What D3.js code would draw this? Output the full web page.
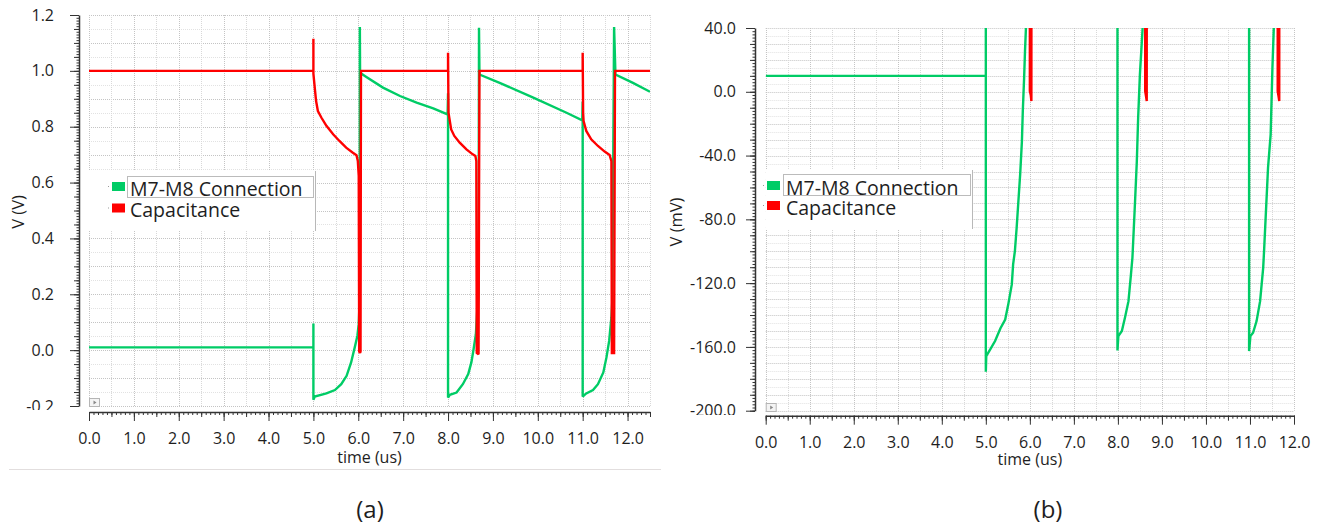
<!DOCTYPE html>
<html><head><meta charset="utf-8">
<script src="https://cdn.jsdelivr.net/npm/d3@7"></script>
<style>
body{margin:0;background:#fff;}
svg{display:block;}
text{font-family:"Open Sans","Noto Sans",sans-serif;fill:#1e1e1e;}
</style>
</head><body>
<svg id="c" width="1327" height="530"></svg>
<script>
// ---------- DATA ----------
const seriesNames = ["M7-M8 Connection", "Capacitance"];
const panelCaptions = ["(a)", "(b)"];

// Panel (a): time in us, V in volts
const xTicksA = [0,1,2,3,4,5,6,7,8,9,10,11,12];
const xTickLabelsA = ["0.0","1.0","2.0","3.0","4.0","5.0","6.0","7.0","8.0","9.0","10.0","11.0","12.0"];
const yTicksA = [-0.2,0,0.2,0.4,0.6,0.8,1.0,1.2];
const yTickLabelsA = ["-0.2","0.0","0.2","0.4","0.6","0.8","1.0","1.2"];

const greenA_t = [0,5.0,5.0,5.0,5.03,5.29,5.48,5.62,5.74,5.84,5.92,5.98,6.01,6.03,6.035,6.04,6.18,6.55,6.93,7.30,7.67,7.99,8.0,8.0,8.04,8.19,8.33,8.45,8.52,8.57,8.62,8.65,8.68,8.69,8.70,9.15,9.90,10.64,10.99,11.0,11.0,11.08,11.23,11.34,11.46,11.53,11.59,11.64,11.66,11.70,11.73,12.12,12.5];
const greenA_v = [0.01,0.01,0.095,-0.178,-0.166,-0.155,-0.143,-0.122,-0.092,-0.044,0.009,0.051,0.093,0.176,1.157,0.993,0.978,0.940,0.910,0.886,0.866,0.844,0.92,-0.17,-0.160,-0.152,-0.122,-0.086,-0.044,0.004,0.057,0.141,0.20,1.154,0.987,0.957,0.904,0.850,0.823,0.89,-0.166,-0.155,-0.143,-0.122,-0.080,-0.026,0.033,0.117,0.176,1.157,0.987,0.957,0.925];

const redA_t = [0,5.0,5.0,5.0,5.03,5.06,5.10,5.18,5.29,5.44,5.58,5.73,5.88,5.96,5.99,6.01,6.02,6.04,6.05,6.06,8.0,8.0,8.01,8.04,8.07,8.14,8.26,8.41,8.55,8.61,8.63,8.64,8.68,8.70,11.0,11.0,11.01,11.02,11.08,11.19,11.34,11.49,11.60,11.64,11.65,11.70,11.72,12.5];
const redA_v = [1.0,1.0,1.115,0.99,0.94,0.892,0.856,0.832,0.803,0.773,0.749,0.725,0.707,0.698,0.677,0.624,-0.005,-0.01,-0.005,1.0,1.0,1.065,0.85,0.82,0.79,0.767,0.743,0.719,0.701,0.695,0.677,-0.01,-0.015,1.0,1.0,1.065,0.85,0.82,0.785,0.755,0.731,0.711,0.699,0.677,-0.01,-0.01,1.0,1.0];

// Panel (b): time in us, V in mV
const xTicksB = [0,1,2,3,4,5,6,7,8,9,10,11,12];
const xTickLabelsB = ["0.0","1.0","2.0","3.0","4.0","5.0","6.0","7.0","8.0","9.0","10.0","11.0","12.0"];
const yTicksB = [-200,-160,-120,-80,-40,0,40];
const yTickLabelsB = ["-200.0","-160.0","-120.0","-80.0","-40.0","0.0","40.0"];

const greenB_t = [0,5.0,5.0,5.0,5.01,5.10,5.21,5.33,5.44,5.51,5.59,5.62,5.66,5.70,5.74,5.78,5.82,5.84,5.87,5.89,5.91,5.93,5.95,5.96,7.99,7.99,8.01,8.09,8.16,8.24,8.29,8.33,8.39,8.43,8.46,8.50,8.54,8.56,8.58,8.60,8.62,10.98,10.98,11.01,11.07,11.15,11.23,11.30,11.32,11.41,11.47,11.51,11.54,11.56,11.60,11.62,12.0];
const greenB_v = [10,10,95,-175.6,-165.7,-161.6,-156.3,-148.4,-142.8,-133.3,-120.8,-108.2,-100,-85.3,-68.5,-51.8,-30.9,-12.1,8.8,25.5,39.1,60,1150,990,844,-162.2,-153.2,-150,-141.7,-131.3,-116.6,-104.1,-68.5,-43.5,-16.3,10.9,29.7,39.1,60,1150,990,823,-162.6,-153.2,-151.1,-143.8,-131.3,-110.4,-99.9,-47.7,-26.7,15.1,39.1,60,1150,990,950];

const redB_t = [0,6.0,6.0,6.02,6.035,6.045,8.62,8.62,8.64,8.655,8.665,11.63,11.63,11.65,11.665,11.675,12.0];
const redB_v = [1000,1000,0.4,-2,-5.8,1000,1000,0.4,-3,-5.8,1000,1000,0.4,-3,-5.8,1000,1000];

// ---------- LAYOUT / STYLE ----------
const colors = ["#00cc66", "#ff0000"];
const svg = d3.select("#c");
const defs = svg.append("defs");

function range(a, b, s) {
  const n = Math.round((b - a) / s);
  return d3.range(n + 1).map(i => +(a + i * s).toFixed(6));
}

function panel(cfg) {
  const x = d3.scaleLinear().domain(cfg.xDomain).range([cfg.px0, cfg.px1]);
  const y = d3.scaleLinear().domain(cfg.yDomain).range([cfg.py1, cfg.py0]);
  const g = svg.append("g");

  // grid
  const grid = g.append("g");
  const minorY = range(cfg.yDomain[0], cfg.yDomain[1], cfg.yGridMinor);
  grid.selectAll("line.hy").data(minorY).join("line")
    .attr("x1", cfg.px0).attr("x2", cfg.px1)
    .attr("y1", d => Math.round(y(d)) + 0.5).attr("y2", d => Math.round(y(d)) + 0.5)
    .attr("stroke", d => (Math.abs(Math.round(d / cfg.yGridMajor) * cfg.yGridMajor - d) < 1e-6) ? "#c4c4c4" : "#e2e2e2")
    .attr("stroke-width", 1).attr("stroke-dasharray", "1,1");
  const gx = range(cfg.xDomain[0], cfg.xDomain[1], 0.5);
  grid.selectAll("line.vx").data(gx).join("line")
    .attr("y1", cfg.py0).attr("y2", cfg.py1)
    .attr("x1", d => Math.round(x(d)) + 0.5).attr("x2", d => Math.round(x(d)) + 0.5)
    .attr("stroke", d => Number.isInteger(d) ? "#c4c4c4" : "#d8d8d8")
    .attr("stroke-width", 1).attr("stroke-dasharray", "1,1");

  // legend background
  const L = cfg.legend;
  g.append("rect").attr("x", cfg.px0).attr("y", L.top).attr("width", L.right - cfg.px0).attr("height", L.bottom - L.top).attr("fill", "#fff");
  g.append("line").attr("x1", L.right + 0.5).attr("x2", L.right + 0.5).attr("y1", L.top).attr("y2", L.bottom).attr("stroke", "#b8b8b8");
  g.append("rect").attr("x", L.textX - 2.5).attr("y", L.focusTop + 0.5).attr("width", L.right - L.textX + 1).attr("height", L.focusH)
    .attr("fill", "none").attr("stroke", "#777").attr("stroke-dasharray", "1,1");
  seriesNames.forEach((name, i) => {
    g.append("rect").attr("x", L.swX).attr("y", L.swY[i]).attr("width", 13).attr("height", 9).attr("fill", colors[i]);
    g.append("rect").attr("x", L.swX - 4).attr("y", L.swY[i] + 4).attr("width", 1).attr("height", 1).attr("fill", "#999");
    g.append("text").attr("x", L.textX).attr("y", L.base[i]).attr("font-size", 19.5).text(name);
  });

  // play icon
  const pi = g.append("g").attr("transform", `translate(${cfg.px0 + 0.5},${cfg.iconY + 0.5})`);
  pi.append("rect").attr("width", 10).attr("height", 8).attr("fill", "#f4f4f4").attr("stroke", "#b5b5b5");
  pi.append("path").attr("d", "M4,2 L7,4 L4,6 Z").attr("fill", "#888");

  // traces
  const clipId = "clip" + cfg.id;
  defs.append("clipPath").attr("id", clipId).append("rect")
    .attr("x", cfg.px0).attr("y", cfg.py0).attr("width", cfg.px1 - cfg.px0).attr("height", cfg.py1 - cfg.py0);
  const line = d3.line().x(d => x(d[0])).y(d => y(d[1]));
  const tr = g.append("g").attr("clip-path", `url(#${clipId})`);
  cfg.series.forEach((s, i) => {
    tr.append("path").datum(d3.zip(s[0], s[1])).attr("d", line)
      .attr("fill", "none").attr("stroke", colors[i]).attr("stroke-width", 2.4)
      .attr("stroke-linejoin", "miter").attr("stroke-miterlimit", 2);
  });

  // y axis
  const yAx = g.append("g").attr("transform", `translate(${cfg.yAxisX},0)`);
  const minorTicks = (vals, size) => {
    const a = d3.axisLeft(y).tickValues(vals).tickSize(size).tickFormat("");
    const gg = yAx.append("g").call(a);
    gg.select(".domain").remove();
    gg.selectAll("line").attr("stroke", "#333");
  };
  minorTicks(range(cfg.yDomain[0], cfg.yDomain[1], cfg.yTickMinor), 2.5);
  minorTicks(range(cfg.yDomain[0], cfg.yDomain[1], cfg.yTickMid), 5);
  const yClip = "ylab" + cfg.id;
  defs.append("clipPath").attr("id", yClip).append("rect").attr("x", -200).attr("y", 0).attr("width", 400).attr("height", cfg.yLabClip);
  const ym = yAx.append("g").attr("clip-path", `url(#${yClip})`).call(d3.axisLeft(y).tickValues(cfg.yTicks)
    .tickFormat((d, i) => cfg.yLabels[i]).tickSize(9).tickSizeOuter(0).tickPadding(cfg.yPad));
  ym.attr("font-size", 16).attr("font-family", null);
  ym.selectAll("line").attr("stroke", "#333");
  ym.select(".domain").attr("stroke", "#333").attr("stroke-width", 1.5);
  ym.selectAll("text").attr("fill", "#1e1e1e");

  // x axis
  const xAx = g.append("g").attr("transform", `translate(0,${cfg.xAxisY})`);
  const xMinor = (vals, size) => {
    const gg = xAx.append("g").call(d3.axisBottom(x).tickValues(vals).tickSize(size).tickFormat(""));
    gg.select(".domain").remove();
    gg.selectAll("line").attr("stroke", "#333");
  };
  xMinor(range(cfg.xDomain[0], cfg.xDomain[1], 0.1), 3);
  xMinor(range(cfg.xDomain[0], cfg.xDomain[1], 0.5), 5);
  const xm = xAx.append("g").call(d3.axisBottom(x).tickValues(cfg.xTicks)
    .tickFormat((d, i) => cfg.xLabels[i]).tickSize(9).tickSizeOuter(0).tickPadding(cfg.xPad));
  xm.attr("font-size", 16).attr("font-family", null);
  xm.selectAll("line").attr("stroke", "#333");
  xm.select(".domain").attr("stroke", "#333").attr("stroke-width", 1.5);
  xm.selectAll("text").attr("fill", "#1e1e1e");

  // titles
  g.append("text").attr("x", (cfg.px0 + cfg.px1) / 2).attr("y", cfg.xTitleY).attr("text-anchor", "middle")
    .attr("font-size", 16).text("time (us)");
  g.append("text").attr("transform", `translate(${cfg.yTitleX},${cfg.yTitleY}) rotate(-90)`).attr("text-anchor", "middle")
    .attr("font-size", 16.5).text(cfg.yTitle);

  // caption
  svg.append("text").attr("x", cfg.capX).attr("y", 518).attr("text-anchor", "middle")
    .attr("font-size", 24).attr("font-family", "'Liberation Sans Narrow','Open Sans',sans-serif").text(cfg.caption);
}

panel({
  id: "A", px0: 89, px1: 650, py0: 15, py1: 406,
  xDomain: [0, 12.5], yDomain: [-0.2, 1.2],
  yGridMinor: 0.05, yGridMajor: 0.1, yTickMinor: 0.01, yTickMid: 0.05,
  yAxisX: 79, xAxisY: 412, yPad: 16, xPad: 12, yLabClip: 410,
  xTicks: xTicksA, xLabels: xTickLabelsA, yTicks: yTicksA, yLabels: yTickLabelsA,
  xTitleY: 463, yTitleX: 24, yTitleY: 212, yTitle: "V (V)",
  iconY: 398, caption: panelCaptions[0], capX: 370,
  legend: { top: 171, bottom: 231, right: 315, textX: 130, focusTop: 176, focusH: 21, swX: 112, swY: [182, 203.5], base: [195.5, 216.5] },
  series: [[greenA_t, greenA_v], [redA_t, redA_v]]
});

panel({
  id: "B", px0: 765.7, px1: 1294, py0: 28, py1: 410.7,
  xDomain: [0, 12], yDomain: [-200, 40],
  yGridMinor: 5, yGridMajor: 10, yTickMinor: 2, yTickMid: 10,
  yAxisX: 755, xAxisY: 415.7, yPad: 10, xPad: 11.5, yLabClip: 415,
  xTicks: xTicksB, xLabels: xTickLabelsB, yTicks: yTicksB, yLabels: yTickLabelsB,
  xTitleY: 465, yTitleX: 682, yTitleY: 222, yTitle: "V (mV)",
  iconY: 403, caption: panelCaptions[1], capX: 1048,
  legend: { top: 170, bottom: 229, right: 972, textX: 786, focusTop: 174, focusH: 21, swX: 767, swY: [181, 201], base: [194.5, 215] },
  series: [[greenB_t, greenB_v], [redB_t, redB_v]]
});

// separator under panel (a)
svg.append("line").attr("x1", 9).attr("x2", 661).attr("y1", 469.5).attr("y2", 469.5).attr("stroke", "#e2dede");
</script>
</body></html>
